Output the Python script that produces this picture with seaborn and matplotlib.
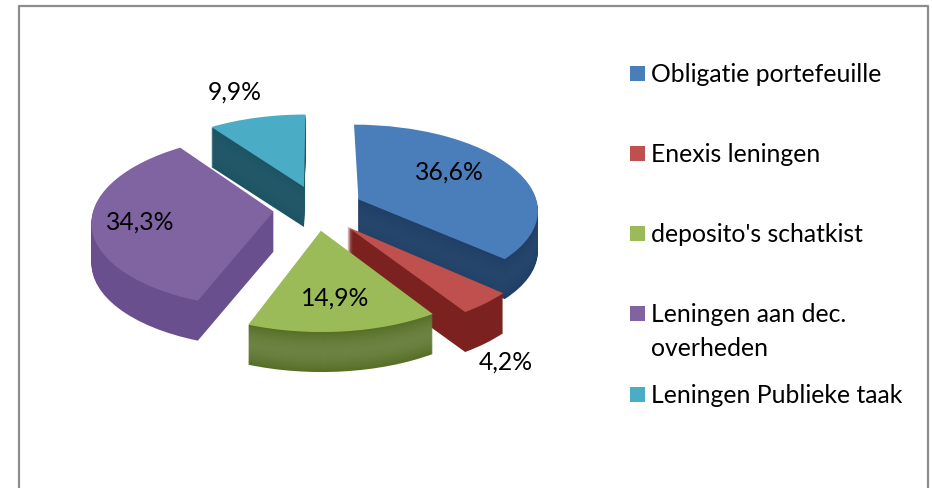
import matplotlib
matplotlib.use('Agg')
import matplotlib.pyplot as plt
import matplotlib.transforms as mtransforms
import numpy as np
import seaborn as sns

categories = ['Obligatie portefeuille', 'Enexis leningen', "deposito's schatkist",
              'Leningen aan dec.\noverheden', 'Leningen Publieke taak']
shares = [36.6, 4.2, 14.9, 34.3, 9.9]

top_colors = sns.color_palette(['#4a7ebb', '#c0504d', '#9bbb59', '#8064a2', '#4bacc6'])
wall_colors = sns.color_palette(['#1f3f66', '#7b2221', '#566f26', '#6a4f8e', '#1d5464'])
wall_glow = [0.03, 0.0, 0.13, 0.0, 0.02]
explode = [0.28, 0.27, 0.25, 0.22, 0.28]
radii = [1.0, 1.03, 1.0, 1.0, 1.0]
nudge_px = [0, 2, 3, 0, 6]
draw_rank = [3, 4, 5, 2, 1]  # back to front

# pixel layout
W, H = 932, 489
CX, CY = 313, 210
RX, RY = 180, 85
DEPTH_PX = 40
TILT = 0.11

label_xy = [(449, 172), (506, 362), (335, 298), (140, 222), (235, 92)]
legend_y = [74, 154, 234, 314, 395]


class Tilt(mtransforms.Transform):
    # fake perspective, front of the pie comes out bigger
    input_dims = 2
    output_dims = 2

    def transform_non_affine(self, values):
        values = np.asarray(values)
        s = 1 / (1 + TILT * values[:, 1])
        return values * s[:, None]


sns.set_theme(style='white')
plt.rcParams['font.family'] = ['Lato', 'DejaVu Sans']

fig = plt.figure(figsize=(W / 100, H / 100), dpi=100)
ax = fig.add_axes([0, 0, 1, 1])

# stack of dark copies for the side walls, top face last
depth = DEPTH_PX / RY
layers = np.linspace(depth, 0, DEPTH_PX + 1)
for n, d in enumerate(layers):
    if d == 0:
        colors = top_colors
    else:
        # green wall is lighter halfway down
        wave = np.sin(np.pi * n / DEPTH_PX)
        colors = [tuple(c + (1 - c) * g * wave for c in col)
                  for col, g in zip(wall_colors, wall_glow)]
    wedges, _ = ax.pie(shares, explode=explode, colors=colors, startangle=90,
                       counterclock=False, radius=1)
    for i, (w, rank) in enumerate(zip(wedges, draw_rank)):
        w.set_radius(radii[i])
        if i == 0 and d > 0:
            w.set_theta2(w.theta2 - 4)  # no wall on the blue back edge
        w.set_transform(Tilt() + mtransforms.Affine2D().translate(nudge_px[i] / RX, -d) + ax.transData)
        w.set_zorder(rank * 100 + n)
        w.set_linewidth(0)

ax.set_aspect('auto')
ax.set_xlim(-CX / RX, (W - CX) / RX)
ax.set_ylim((CY - H) / RY, CY / RY)

# overlay in pixels for frame, labels and legend
over = fig.add_axes([0, 0, 1, 1], facecolor='none')
over.set_xlim(0, W)
over.set_ylim(H, 0)
over.axis('off')

over.plot([18.5, 18.5, 928, 928], [H, 7, 7, H], color='#8c8c8c', lw=1.6)

for v, (x, y) in zip(shares, label_xy):
    over.text(x, y, f'{v:.1f}'.replace('.', ',') + '%', ha='center', va='center',
              fontsize=17.8, color='black')

for name, col, y in zip(categories, top_colors, legend_y):
    over.add_patch(plt.Rectangle((630, y - 7.5), 15, 15, color=col, lw=0))
    over.text(651, y - 11, name, ha='left', va='top', fontsize=17.8, color='black',
              linespacing=1.56)

fig.savefig('out.png', dpi=100)
plt.close(fig)
